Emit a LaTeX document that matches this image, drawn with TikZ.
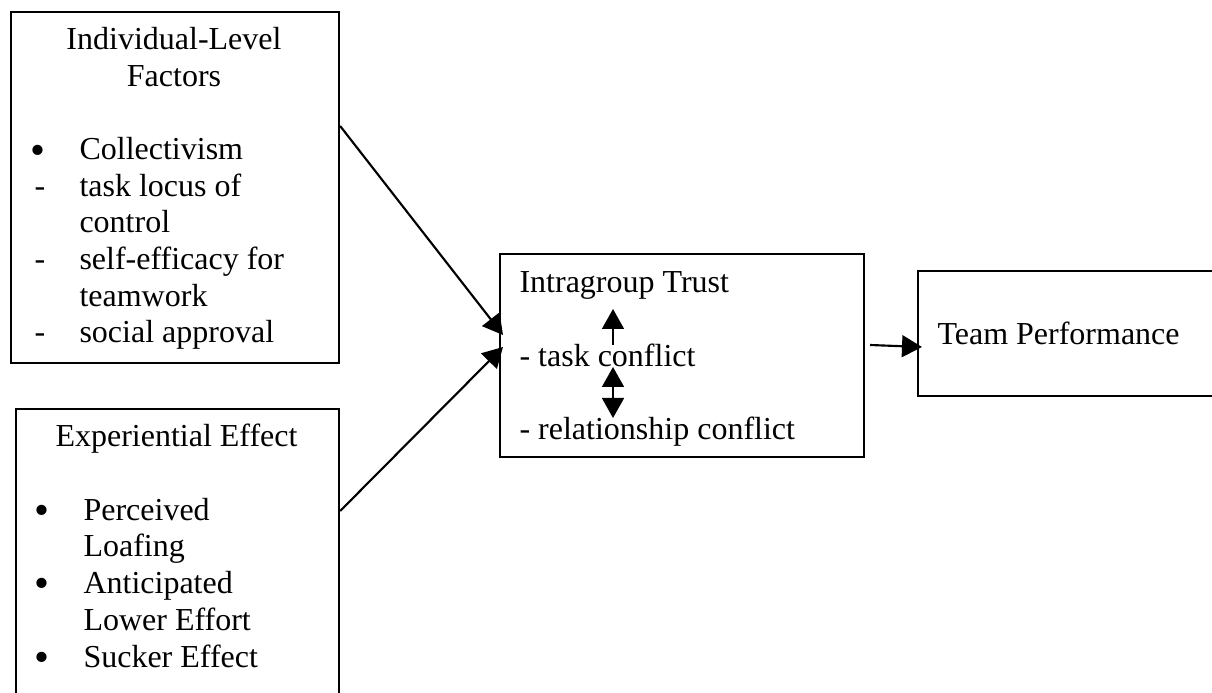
\documentclass[tikz,border=0pt]{standalone}
\usepackage{fontspec}
\setmainfont{Liberation Serif}
\usetikzlibrary{arrows.meta,calc}
\begin{document}
\begin{tikzpicture}[x=0.375pt,y=-0.375pt,
  box/.style={draw,line width=0.8pt,inner sep=0pt,anchor=north west},
  txt/.style={inner sep=0pt,anchor=base west,font=\fontsize{12pt}{13.7pt}\selectfont},
  ctxt/.style={txt,anchor=base},
  dashmark/.style={txt,anchor=base},
  bulletmark/.style={inner sep=0pt,anchor=base,yshift=-1.6pt,font=\fontsize{16pt}{16pt}\selectfont},
  arr/.style={-{Triangle[length=7.5pt,width=8.2pt]},line width=0.8pt},
  darr/.style={{Triangle[length=7.5pt,width=8.2pt]}-{Triangle[length=7.5pt,width=8.2pt]},line width=0.8pt}]
\useasboundingbox (0,0) rectangle (1212,693);
\clip (0,0) rectangle (1212,693);
% boxes
\node[box,minimum width=123pt,minimum height=131.625pt] (b1) at (10,11) {};
\node[box,minimum width=121.125pt,minimum height=117pt] (b2) at (15,408) {};
\node[box,minimum width=136.5pt,minimum height=76.125pt] (bm) at (499,253) {};
\node[box,minimum width=117.375pt,minimum height=46.875pt] (bt) at (917,270) {};
% box 1 text
\node[ctxt] (t1a) at (174,50) {Individual-Level};
\node[ctxt] (t1b) at (174,86.6) {Factors};
\node[bulletmark] (m1) at (38,159.8) {•};
\node[txt] (l1) at (79,159.8) {Collectivism};
\node[dashmark] (m2) at (40,196.4) {-};
\node[txt] (l2) at (79,196.4) {task locus of};
\node[txt] (l3) at (79,233) {control};
\node[dashmark] (m3) at (40,269.6) {-};
\node[txt] (l4) at (79,269.6) {self-efficacy for};
\node[txt] (l5) at (79,306.2) {teamwork};
\node[dashmark] (m4) at (40,342.8) {-};
\node[txt] (l6) at (79,342.8) {social approval};
% box 2 text
\node[ctxt] (t2) at (176.5,447) {Experiential Effect};
\node[bulletmark] (n1) at (42,520.4) {•};
\node[txt] (k1) at (83,520.4) {Perceived};
\node[txt] (k2) at (83,557) {Loafing};
\node[bulletmark] (n2) at (42,593.7) {•};
\node[txt] (k3) at (83,593.7) {Anticipated};
\node[txt] (k4) at (83,630.4) {Lower Effort};
\node[bulletmark] (n3) at (42,667) {•};
\node[txt] (k5) at (83,667) {Sucker Effect};
% middle box text
\node[txt] (it) at (519,293) {Intragroup Trust};
\node[txt] (tc) at (519,367) {- task conflict};
\node[txt] (rc) at (519,440) {- relationship conflict};
% team box text
\node[txt] (tp) at (937,345) {Team Performance};
% inner arrows
\coordinate (ua) at (613,345);
\coordinate (ub) at (613,309);
\coordinate (da) at (613,367);
\coordinate (db) at (613,418);
\draw[arr] (ua) -- (ub);
\draw[darr] (da) -- (db);
% connectors
\draw[arr] ($(b1.north east)+(0,115)$) -- ($(bm.north west)+(4,82)$);
\draw[arr] ($(b2.north east)+(0,103)$) -- ($(bm.north west)+(4,94)$);
\draw[arr] ($(bm.north east)+(5,92)$) -- ($(bt.north west)+(5,77)$);
\end{tikzpicture}
\end{document}
